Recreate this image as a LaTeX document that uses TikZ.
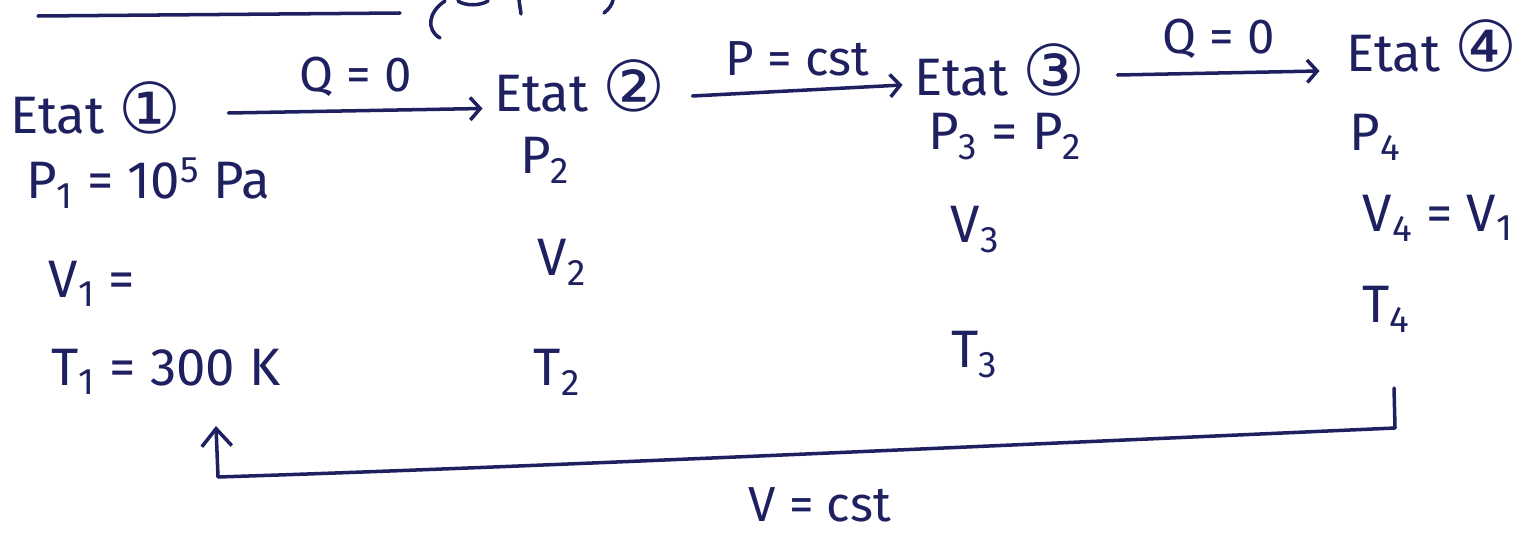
\documentclass[tikz,border=0pt]{standalone}
\usepackage{fontspec}
\setmainfont{Fira Sans}
\newfontfamily\circfont{DejaVu Sans}
\usepackage{tikz}
\usetikzlibrary{arrows.meta}
\definecolor{inkBlue}{HTML}{1E2060}
\tikzset{
  handtext/.style={font=\fontsize{30}{34}\selectfont, text=inkBlue, inner sep=1pt},
  handlabel/.style={font=\fontsize{28}{32}\selectfont, text=inkBlue, inner sep=2pt},
  inkline/.style={draw=inkBlue, line width=2pt, line cap=round, line join=round},
  inkarrow/.style={inkline, -{Straight Barb[length=2mm,width=4.5mm]}},
  uparrow/.style={inkline, -{Straight Barb[length=3.5mm,width=6mm]}},
}
\newcommand{\etatnum}[1]{{\circfont\fontsize{40}{40}\selectfont #1}}

\begin{document}
\begin{tikzpicture}[x=0.02cm,y=-0.02cm]
  \useasboundingbox (0,0) rectangle (1537,534);

  % ---------- cut-off line at the top ----------
  \draw[inkline] (38,16) -- (400,13);
  \draw[inkline] (445,1) .. controls (428,12) and (426,30) .. (440,38);
  \draw[inkline] (458,1) .. controls (465,6) and (480,6) .. (488,1);
  \draw[inkline] (519,0) -- (521,14);
  \draw[inkline] (613,0) .. controls (612,5) and (609,9) .. (604,13);

  % ---------- states ----------
  \node[handtext] (etat1) at (96,108)   {Etat \etatnum{①}};
  \node[handtext] (etat2) at (580,86)   {Etat \etatnum{②}};
  \node[handtext] (etat3) at (1000,70)  {Etat \etatnum{③}};
  \node[handtext] (etat4) at (1432,46)  {Etat \etatnum{④}};

  % ---------- state 1 ----------
  \node[handtext] (p1) at (148,183) {P\textsubscript{1} = 10\textsuperscript{5} Pa};
  \node[handtext] (v1) at (92,284)  {V\textsubscript{1} =};
  \node[handtext] (t1) at (166,372) {T\textsubscript{1} = 300 K};

  % ---------- state 2 ----------
  \node[handtext] (p2) at (545,160) {P\textsubscript{2}};
  \node[handtext] (v2) at (562,262) {V\textsubscript{2}};
  \node[handtext] (t2) at (557,372) {T\textsubscript{2}};

  % ---------- state 3 ----------
  \node[handtext] (p3) at (1005,137) {P\textsubscript{3} = P\textsubscript{2}};
  \node[handtext] (v3) at (975,230)  {V\textsubscript{3}};
  \node[handtext] (t3) at (975,355)  {T\textsubscript{3}};

  % ---------- state 4 ----------
  \node[handtext] (p4) at (1375,137) {P\textsubscript{4}};
  \node[handtext] (v4) at (1438,218) {V\textsubscript{4} = V\textsubscript{1}};
  \node[handtext] (t4) at (1386,309) {T\textsubscript{4}};

  % ---------- transformations ----------
  \draw[inkarrow] ([yshift=-0.1cm,xshift=0.9cm]etat1.east) -- node[handlabel,above=5pt]{Q = 0} ([yshift=-0.45cm,xshift=-0.2cm]etat2.west);
  \draw[inkarrow] ([yshift=-0.2cm,xshift=0.5cm]etat2.east) -- node[handlabel,above=5pt]{P = cst} ([yshift=-0.3cm,xshift=-0.2cm]etat3.west);
  \draw[inkarrow] ([yshift=-0.1cm,xshift=0.6cm]etat3.east) -- node[handlabel,above=5pt]{Q = 0} ([yshift=-0.5cm,xshift=-0.5cm]etat4.west);

  % ---------- return at constant volume ----------
  \coordinate (loopR)  at (1394,388);
  \coordinate (cornR)  at (1395,428);
  \coordinate (cornL)  at (218,477);
  \coordinate (loopL)  at (216,426);
  \draw[uparrow] (loopR) -- (cornR) .. controls (900,450) and (500,468) .. (cornL) -- (loopL);
  \node[handlabel] (vcst) at (820,505) {V = cst};

\end{tikzpicture}
\end{document}
